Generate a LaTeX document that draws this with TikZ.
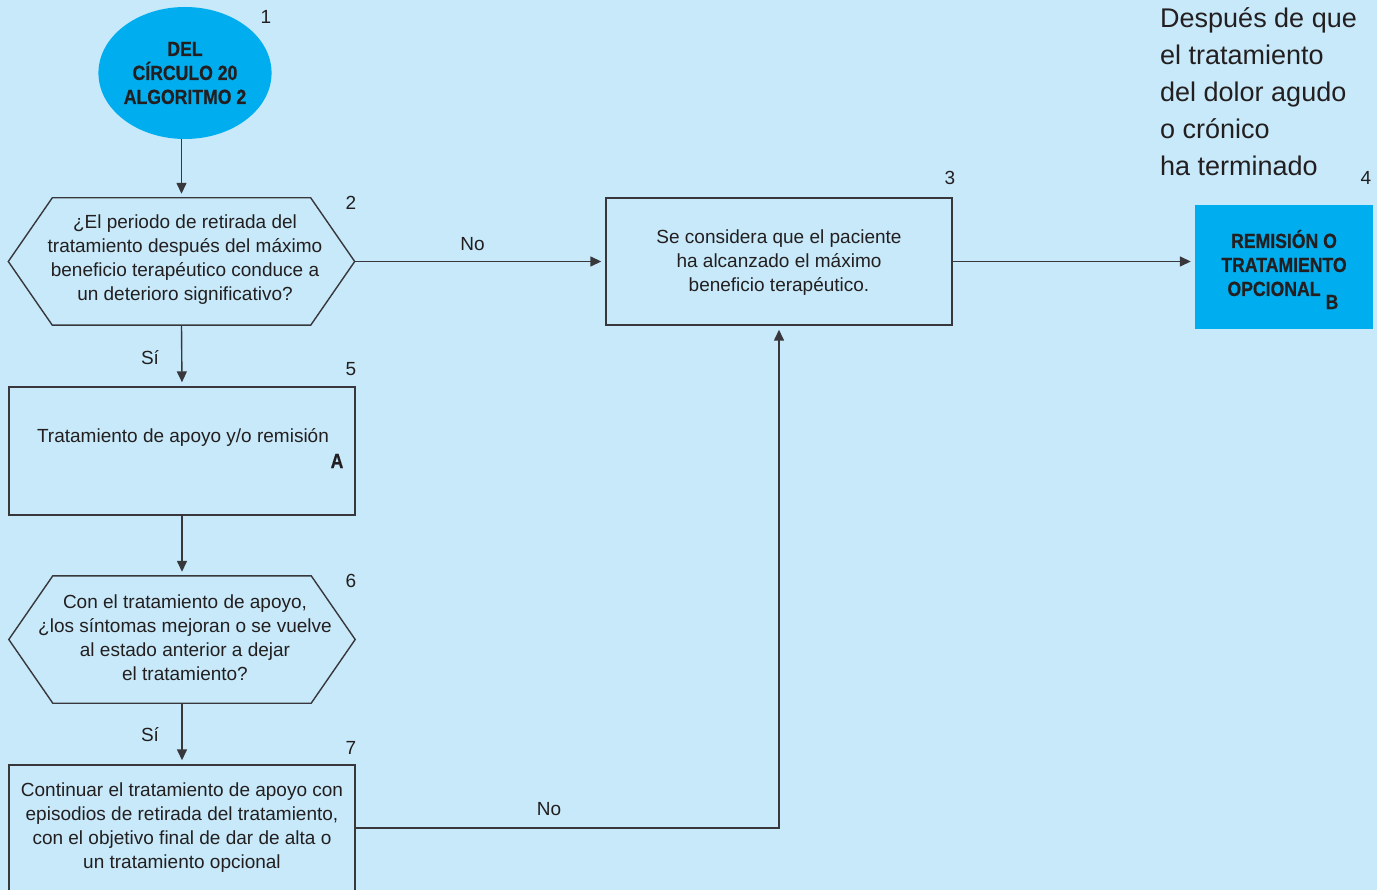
\documentclass[tikz,border=0pt]{standalone}
\usepackage{fontspec}
\setmainfont{Liberation Sans}
\newfontfamily\heavyfont[FakeStretch=0.86,FakeBold=0.6]{Liberation Sans Bold}
\usetikzlibrary{arrows.meta,calc,shapes.geometric}
\definecolor{bg}{RGB}{199,233,249}
\definecolor{cyanbox}{RGB}{0,174,239}
\definecolor{ink}{RGB}{35,31,32}
\definecolor{edge}{RGB}{55,55,60}
\begin{document}
\begin{tikzpicture}[x=1pt,y=-1pt,
  txt/.style={font=\fontsize{19}{24}\selectfont, text=ink, align=center},
  boldtxt/.style={font=\heavyfont\fontsize{20.5}{24}\selectfont, text=ink, align=center},
  numlbl/.style={font=\fontsize{19}{20}\selectfont, text=ink, inner sep=0pt},
  rbox/.style={draw=edge, line width=1.4pt, fill=bg, inner sep=0pt, txt},
  hexframe/.style={draw=none, inner sep=0pt, txt, minimum width=346pt, minimum height=127pt},
  hexline/.style={draw=edge, line width=1.4pt, fill=bg},
  conn/.style={draw=edge, line width=1.4pt, shorten >=4pt, -{Triangle[length=11pt,width=10pt]}},
  plain/.style={draw=edge, line width=1.4pt}
]
\fill[bg] (0,0) rectangle (1377,890);
\useasboundingbox (0,0) rectangle (1377,890);
\clip (0,0) rectangle (1377,890);

% 1
\node[ellipse, fill=cyanbox, minimum width=172pt, minimum height=132pt, inner sep=0pt, boldtxt] (n1) at (185,73) {DEL\\CÍRCULO 20\\ALGORITMO 2};
\node[numlbl] (l1) at (266,17) {1};

% 2
\node[hexframe] (n2f) at (181.5,261.5) {};
\draw[hexline] (n2f.west) -- ([xshift=44pt]n2f.north west) -- ([xshift=-44pt]n2f.north east) -- (n2f.east) -- ([xshift=-44pt]n2f.south east) -- ([xshift=44pt]n2f.south west) -- cycle;
\node[txt] (n2) at (185,260) {¿El periodo de retirada del\\tratamiento después del máximo\\beneficio terapéutico conduce a\\un deterioro significativo?};
\node[numlbl] (l2) at (351,203) {2};

% 3
\node[rbox, minimum width=346pt, minimum height=127pt] (n3) at (779,261.5) {};
\node[txt] (t3) at (779,263) {Se considera que el paciente\\ha alcanzado el máximo\\beneficio terapéutico.};
\node[numlbl] (l3) at (950,178) {3};

% 4
\node[fill=cyanbox, minimum width=178pt, minimum height=124pt, inner sep=0pt] (n4) at (1284,267) {};
\node[boldtxt, inner sep=0pt] (t4) at (1284,263) {REMISIÓN O\\TRATAMIENTO\\OPCIONAL\hspace*{20pt}};
\node[boldtxt, inner sep=0pt] (b4) at (1332,302) {B};
\node[numlbl] (l4) at (1366,178) {4};

% header text
\node[anchor=west, inner sep=0pt, align=left, text=ink, font=\fontsize{27}{37}\selectfont] (head) at (1160,92) {Después de que\\el tratamiento\\del dolor agudo\\o crónico\\ha terminado};

% 5
\node[rbox, minimum width=346pt, minimum height=128pt] (n5) at (182,451) {};
\node[txt] (t5) at (183,437) {Tratamiento de apoyo y/o remisión};
\node[boldtxt, inner sep=0pt] (a5) at (337,461) {A};
\node[numlbl] (l5) at (351,369) {5};

% 6
\node[hexframe] (n6f) at (182,639.5) {};
\draw[hexline] (n6f.west) -- ([xshift=44pt]n6f.north west) -- ([xshift=-44pt]n6f.north east) -- (n6f.east) -- ([xshift=-44pt]n6f.south east) -- ([xshift=44pt]n6f.south west) -- cycle;
\node[txt] (n6) at (185,638) {Con el tratamiento de apoyo,\\¿los síntomas mejoran o se vuelve\\al estado anterior a dejar\\el tratamiento?};
\node[numlbl] (l6) at (351,581) {6};

% 7
\node[rbox, minimum width=346pt, minimum height=126pt] (n7) at (182,828) {Continuar el tratamiento de apoyo con\\episodios de retirada del tratamiento,\\con el objetivo final de dar de alta o\\un tratamiento opcional};
\node[numlbl] (l7) at (351,748) {7};

% connectors
\draw[conn] (n2f.north |- n1.south) -- (n2f.north);
\draw[conn] (n2f.east) -- (n3.west) node[pos=0.47, above=7pt, txt] (no1) {No};
\draw[conn] (n3.east) -- (n3.east -| n4.west);
\draw[conn] (n2f.south) -- (n5.north);
\node[txt] (si1) at (150,358) {Sí};
\draw[conn] (n5.south) -- (n6f.north);
\draw[conn] (n6f.south) -- (n7.north);
\node[txt] (si2) at (150,735) {Sí};
\draw[conn] (n7.east) -| (n3.south);
\node[txt] (no2) at (549,809) {No};
\end{tikzpicture}
\end{document}
